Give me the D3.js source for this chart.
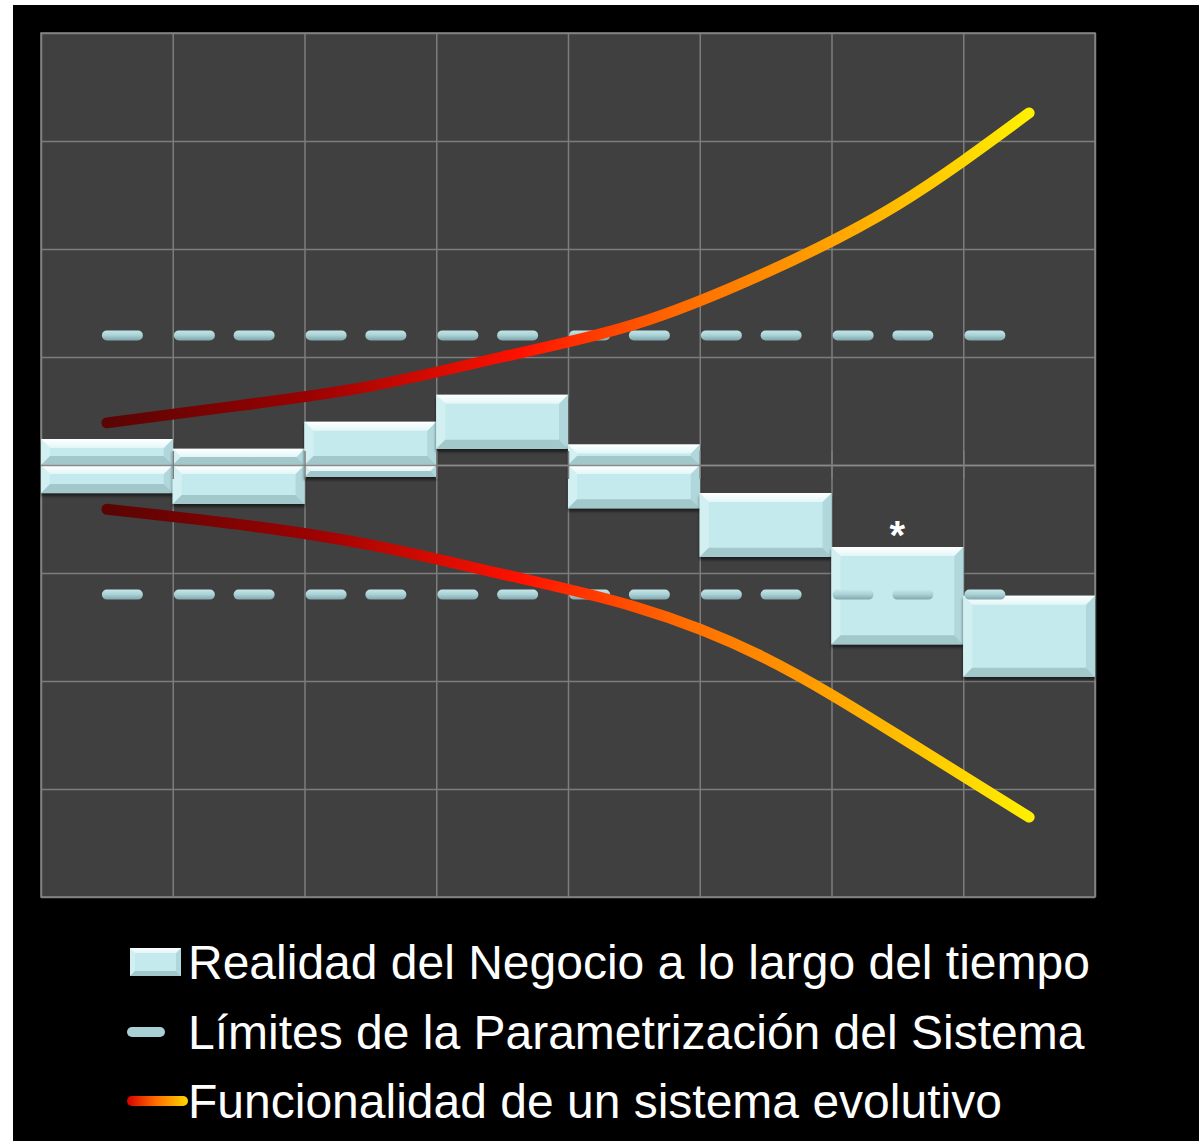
<!DOCTYPE html>
<html>
<head>
<meta charset="utf-8">
<script src="https://cdn.jsdelivr.net/npm/d3@7"></script>
<style>
    html, body { margin: 0; padding: 0; background: #ffffff; }
    svg { display: block; }
</style>
</head>
<body>
<div class="js-canvas"></div>
<script>
'use strict';

// periods along the time axis (no labels are shown on the chart)
const categories = ['1', '2', '3', '4', '5', '6', '7', '8'];

// business reality: floating box per period (top and bottom value)
const realidadTop = [2.4, 1.5, 4.0, 6.5, 1.9, -2.6, -7.6, -12.1];
const realidadBottom = [-2.6, -3.6, -1.1, 1.5, -4.0, -8.5, -16.6, -19.6];

// system parametrisation limits
const limiteSuperior = [12, 12, 12, 12, 12, 12, 12, 12];
const limiteInferior = [-12, -12, -12, -12, -12, -12, -12, -12];

// evolutive system functionality (upper and lower envelope)
const funcSuperior = [3.9, 5.5, 7.3, 10.0, 13.0, 17.8, 24.1, 32.6];
const funcInferior = [-4.1, -5.5, -7.4, -10.1, -13.1, -17.9, -25.0, -32.6];

const yTicks = [-40, -30, -20, -10, 0, 10, 20, 30, 40];

const legendLabels = [
    'Realidad del Negocio a lo largo del tiempo',
    'Límites de la Parametrización del Sistema',
    'Funcionalidad de un sistema evolutivo'
];

const noteLabel = '*';
const noteIndex = 6;

const config = {
    width: 1199,
    height: 1141,
    frame: { left: 13, top: 5 },
    plot: { left: 41, top: 33, right: 1095, bottom: 897 },
    bevel: 9,
    grid: '#7d7d7d'
};

const svg = d3.select('.js-canvas')
    .append('svg')
    .attr('width', config.width)
    .attr('height', config.height)
    ;

const defs = svg.append('defs');

const shadow = defs.append('filter')
    .attr('id', 'boxShadow')
    .attr('x', '-10%').attr('y', '-20%')
    .attr('width', '120%').attr('height', '160%');
shadow.append('feDropShadow')
    .attr('dx', 0).attr('dy', 3)
    .attr('stdDeviation', 1.5)
    .attr('flood-color', '#000')
    .attr('flood-opacity', 0.55);

const topGrad = defs.append('linearGradient')
    .attr('id', 'bevelTop')
    .attr('x1', 0).attr('y1', 0).attr('x2', 0).attr('y2', 1);
topGrad.append('stop').attr('offset', 0).attr('stop-color', '#ffffff');
topGrad.append('stop').attr('offset', 1).attr('stop-color', '#e2f6f7');

// black slide background
svg.append('rect')
    .attr('x', config.frame.left)
    .attr('y', config.frame.top)
    .attr('width', config.width - config.frame.left)
    .attr('height', config.height - config.frame.top)
    .attr('fill', '#000')
    ;

const x = d3.scaleBand()
    .domain(categories)
    .range([config.plot.left, config.plot.right])
    .padding(0)
    ;

// boundaries between periods, used for the vertical grid
const xEdge = d3.scaleLinear()
    .domain([0, categories.length])
    .range([config.plot.left, config.plot.right])
    ;

const y = d3.scaleLinear()
    .domain([d3.min(yTicks), d3.max(yTicks)])
    .range([config.plot.bottom, config.plot.top])
    ;

const plotW = config.plot.right - config.plot.left;
const plotH = config.plot.bottom - config.plot.top;
const cx = d => x(d) + x.bandwidth() / 2;

// gradient for the functionality curves, left to right
const curveGrad = defs.append('linearGradient')
    .attr('id', 'curveGrad')
    .attr('gradientUnits', 'userSpaceOnUse')
    .attr('x1', cx(categories[0])).attr('y1', 0)
    .attr('x2', cx(categories[categories.length - 1])).attr('y2', 0);
[[0, '#5a0404'], [0.22, '#9a0202'], [0.45, '#ff1200'], [0.62, '#ff6a00'], [0.8, '#ffa800'], [1, '#fff000']]
    .forEach(s => curveGrad.append('stop').attr('offset', s[0]).attr('stop-color', s[1]));

svg.append('rect')
    .attr('x', config.plot.left)
    .attr('y', config.plot.top)
    .attr('width', plotW)
    .attr('height', plotH)
    .attr('fill', '#404040')
    ;

// grid
svg.append('g')
    .attr('transform', `translate(${config.plot.left}, 0)`)
    .call(d3.axisLeft(y).tickValues(yTicks).tickSize(-plotW).tickFormat(''))
    .call(g => g.select('.domain').remove())
    .call(g => g.selectAll('line').attr('stroke', config.grid).attr('stroke-width', 1.5))
    ;

svg.append('g')
    .attr('transform', `translate(0, ${config.plot.bottom})`)
    .call(d3.axisBottom(xEdge).ticks(categories.length).tickSize(-plotH).tickFormat(''))
    .call(g => g.select('.domain').remove())
    .call(g => g.selectAll('line').attr('stroke', config.grid).attr('stroke-width', 1.5))
    ;

svg.append('rect')
    .attr('x', config.plot.left)
    .attr('y', config.plot.top)
    .attr('width', plotW)
    .attr('height', plotH)
    .attr('fill', 'none')
    .attr('stroke', '#858585')
    .attr('stroke-width', 1.5)
    ;

// bevelled box
function bevelBox(parent, x0, x1, y0, y1, size) {
    const b = Math.min(size, (y1 - y0) / 2, (x1 - x0) / 2);
    const g = parent.append('g').attr('filter', 'url(#boxShadow)');
    const poly = (pts, fill) => g.append('polygon')
        .attr('points', pts.map(p => p.join(',')).join(' '))
        .attr('fill', fill);
    g.append('rect')
        .attr('x', x0).attr('y', y0)
        .attr('width', x1 - x0).attr('height', y1 - y0)
        .attr('fill', '#c5eaed');
    poly([[x0, y0], [x0 + b, y0 + b], [x0 + b, y1 - b], [x0, y1]], '#d2eff1');
    poly([[x1, y0], [x1, y1], [x1 - b, y1 - b], [x1 - b, y0 + b]], '#b0d7db');
    poly([[x0, y1], [x0 + b, y1 - b], [x1 - b, y1 - b], [x1, y1]], '#a2c8cc');
    poly([[x0, y0], [x1, y0], [x1 - b, y0 + b], [x0 + b, y0 + b]], 'url(#bevelTop)');
    return g;
}

const boxes = svg.append('g');
categories.forEach((c, i) => {
    const x0 = x(c);
    const x1 = x(c) + x.bandwidth();
    const hi = realidadTop[i];
    const lo = realidadBottom[i];
    // boxes that straddle zero are drawn as two stacked parts
    if (hi > 0 && lo < 0) {
        bevelBox(boxes, x0, x1, y(hi), y(0), config.bevel);
        bevelBox(boxes, x0, x1, y(0), y(lo), config.bevel);
    } else {
        bevelBox(boxes, x0, x1, y(hi), y(lo), config.bevel);
    }
});

// zero axis with cross ticks (0.5 offset to sit on the axis-drawn grid)
const zeroAxis = svg.append('g');
zeroAxis.append('line')
    .attr('x1', config.plot.left).attr('x2', config.plot.right)
    .attr('y1', y(0) + 0.5).attr('y2', y(0) + 0.5)
    .attr('stroke', '#8a8a8a')
    .attr('stroke-width', 1.5);
zeroAxis.selectAll('.tick')
    .data(d3.range(1, categories.length))
    .enter().append('line')
    .attr('x1', d => xEdge(d) + 0.5).attr('x2', d => xEdge(d) + 0.5)
    .attr('y1', y(0) - 14).attr('y2', y(0) + 14)
    .attr('stroke', config.grid)
    .attr('stroke-width', 1.5);

// dashed limits (dash pattern restarts on every segment)
function dashedLimit(values, id) {
    const yy = y(values[0]);
    const grad = defs.append('linearGradient')
        .attr('id', id)
        .attr('gradientUnits', 'userSpaceOnUse')
        .attr('x1', 0).attr('y1', yy - 5).attr('x2', 0).attr('y2', yy + 5);
    grad.append('stop').attr('offset', 0).attr('stop-color', '#c4e6ea');
    grad.append('stop').attr('offset', 0.5).attr('stop-color', '#a9d1d5');
    grad.append('stop').attr('offset', 1).attr('stop-color', '#7fa7ab');
    const segs = d3.pairs(categories.map((c, i) => [cx(c), y(values[i])]));
    svg.append('g').selectAll('line')
        .data(segs)
        .enter().append('line')
        .attr('x1', d => d[0][0]).attr('y1', d => d[0][1])
        .attr('x2', d => d[1][0]).attr('y2', d => d[1][1])
        .attr('stroke', `url(#${id})`)
        .attr('stroke-width', 10)
        .attr('stroke-linecap', 'round')
        .attr('stroke-dasharray', '31,41');
}
dashedLimit(limiteSuperior, 'limGradTop');
dashedLimit(limiteInferior, 'limGradBottom');

// functionality curves
const line = d3.line()
    .x((d, i) => cx(categories[i]))
    .y(d => y(d))
    .curve(d3.curveNatural)
    ;

[funcSuperior, funcInferior].forEach(series => {
    svg.append('path')
        .datum(series)
        .attr('d', line)
        .attr('fill', 'none')
        .attr('stroke', 'url(#curveGrad)')
        .attr('stroke-width', 11)
        .attr('stroke-linecap', 'round');
});

// note above box 7
svg.append('text')
    .attr('x', cx(categories[noteIndex]))
    .attr('y', y(realidadTop[noteIndex]) + 2)
    .attr('text-anchor', 'middle')
    .attr('font-family', '"Liberation Sans", Arial, sans-serif')
    .attr('font-weight', 'bold')
    .attr('font-size', 40)
    .attr('fill', '#ffffff')
    .text(noteLabel);

// legend
const legend = svg.append('g')
    .attr('font-family', '"Liberation Sans", Arial, sans-serif')
    .attr('font-size', 48)
    .attr('fill', '#ffffff');
const rowY = [962, 1032, 1101];

bevelBox(legend, 130, 181, rowY[0] - 14, rowY[0] + 14, 5);

legend.append('line')
    .attr('x1', 132).attr('x2', 160)
    .attr('y1', rowY[1]).attr('y2', rowY[1])
    .attr('stroke', '#a9d1d5')
    .attr('stroke-width', 10)
    .attr('stroke-linecap', 'round');

const legGrad = defs.append('linearGradient')
    .attr('id', 'legGrad')
    .attr('gradientUnits', 'userSpaceOnUse')
    .attr('x1', 127).attr('y1', 0).attr('x2', 187).attr('y2', 0);
[[0, '#d80000'], [0.5, '#ff7000'], [1, '#ffd400']]
    .forEach(s => legGrad.append('stop').attr('offset', s[0]).attr('stop-color', s[1]));
legend.append('line')
    .attr('x1', 132).attr('x2', 183)
    .attr('y1', rowY[2]).attr('y2', rowY[2])
    .attr('stroke', 'url(#legGrad)')
    .attr('stroke-width', 10)
    .attr('stroke-linecap', 'round');

legend.selectAll('.label')
    .data(legendLabels)
    .enter().append('text')
    .attr('x', 188)
    .attr('y', (d, i) => rowY[i] + 17)
    .text(d => d);
</script>
</body>
</html>
